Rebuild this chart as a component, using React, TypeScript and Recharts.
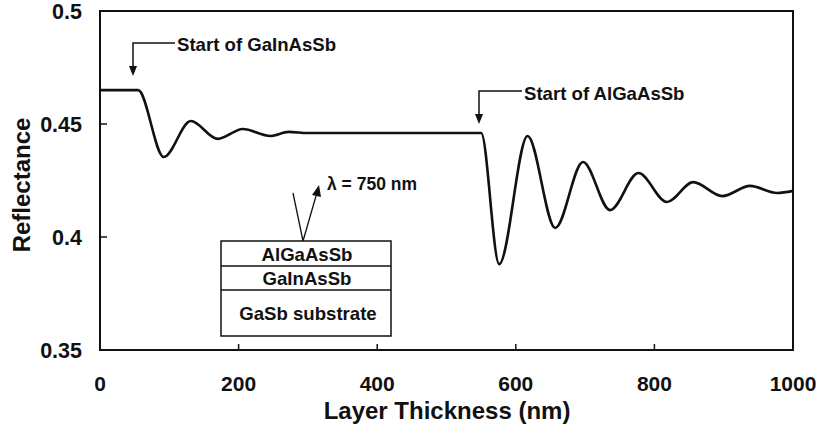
import { LineChart, Line, XAxis, YAxis, ReferenceArea } from "recharts";

// Reflectance trace at 750 nm vs. grown layer thickness
const thickness = [0, 55, 92, 131, 170, 206, 246, 272, 300, 550, 576, 617, 657, 697, 736, 777, 818, 856, 898, 938, 977, 1000];
const reflectance = [
  0.465, 0.465, 0.4354, 0.4513, 0.4434, 0.4478, 0.4447, 0.4465, 0.446, 0.446, 0.388, 0.4447, 0.404, 0.4332,
  0.4119, 0.4283, 0.4155, 0.4243, 0.4181, 0.4226, 0.4195, 0.4204
];
const xTicks = [0, 200, 400, 600, 800, 1000];
const yTicks = [0.35, 0.4, 0.45, 0.5];

const rows = thickness.map((t, i) => ({ t, r: reflectance[i] }));

const FONT = "'Liberation Sans', Arial, Helvetica, sans-serif";
const INK = "#111";
const X_MARGIN = 26;
const Y_MARGIN = 18;

function XTick(props: any) {
  const { x, y, payload } = props;
  const axisY = y - X_MARGIN;
  const edge = payload.value === 0 || payload.value === 1000;
  return (
    <g>
      {!edge && <line x1={x} x2={x} y1={axisY} y2={axisY - 6} stroke={INK} strokeWidth={1.5} />}
      <text x={x} y={y} dy="0.71em" textAnchor="middle" fontFamily={FONT} fontWeight="bold" fontSize={21} fill={INK}>
        {payload.value}
      </text>
    </g>
  );
}

function YTick(props: any) {
  const { x, y, payload } = props;
  const axisX = x + Y_MARGIN;
  const edge = payload.value === 0.35 || payload.value === 0.5;
  return (
    <g>
      {!edge && <line x1={axisX} x2={axisX + 7} y1={y} y2={y} stroke={INK} strokeWidth={1.5} />}
      <text x={x} y={y} dy="0.355em" textAnchor="end" fontFamily={FONT} fontWeight="bold" fontSize={21.5} fill={INK}>
        {payload.value}
      </text>
    </g>
  );
}

function Overlay() {
  const label = { fontFamily: FONT, fontWeight: "bold" as const, fill: INK };
  return (
    <svg width={820} height={438} style={{ position: "absolute", left: 0, top: 0, pointerEvents: "none" }}>
      {/* axis titles */}
      <text x={21} y={185} transform="rotate(-90 21 185)" textAnchor="middle" dominantBaseline="central" fontSize={24} {...label}>
        Reflectance
      </text>
      <text x={447} y={410} textAnchor="middle" dominantBaseline="central" fontSize={24} {...label}>
        Layer Thickness (nm)
      </text>

      {/* layer start markers */}
      <polyline points="175,43 133,43 133,67" fill="none" stroke={INK} strokeWidth={1.5} />
      <polygon points="129,66 137,66 133,76" fill={INK} />
      <text x={177} y={44} dominantBaseline="central" fontSize={18.6} {...label}>
        Start of GaInAsSb
      </text>
      <polyline points="522,91 479,91 479,115" fill="none" stroke={INK} strokeWidth={1.5} />
      <polygon points="475,114 483,114 479,124" fill={INK} />
      <text x={524} y={93} dominantBaseline="central" fontSize={18.6} {...label}>
        Start of AlGaAsSb
      </text>

      {/* layer stack sketch */}
      <line x1={293} y1={193} x2={303} y2={241} stroke={INK} strokeWidth={1.3} />
      <line x1={303} y1={241} x2={316} y2={196} stroke={INK} strokeWidth={1.3} />
      <polygon points="312,195 321,197 319,185" fill={INK} />
      <text x={327} y={184} dominantBaseline="central" fontSize={17.5} {...label}>
        λ = 750 nm
      </text>
      <rect x={221} y={241} width={170} height={95} fill="#fff" stroke={INK} strokeWidth={1.5} />
      <line x1={221} y1={266} x2={391} y2={266} stroke={INK} strokeWidth={1.5} />
      <line x1={221} y1={290} x2={391} y2={290} stroke={INK} strokeWidth={1.5} />
      <text x={307} y={254} textAnchor="middle" dominantBaseline="central" fontSize={18.6} {...label}>
        AlGaAsSb
      </text>
      <text x={307} y={278} textAnchor="middle" dominantBaseline="central" fontSize={18.6} {...label}>
        GaInAsSb
      </text>
      <text x={308} y={313} textAnchor="middle" dominantBaseline="central" fontSize={18.6} {...label}>
        GaSb substrate
      </text>
    </svg>
  );
}

export default function App() {
  return (
    <div style={{ position: "absolute", left: 0, top: 0, width: 820, height: 438, background: "#fff" }}>
      <LineChart width={820} height={438} data={rows} margin={{ top: 11, right: 27, bottom: 0, left: 0 }}>
        <XAxis
          dataKey="t"
          type="number"
          domain={[0, 1000]}
          ticks={xTicks}
          interval={0}
          height={88}
          tickSize={0}
          tickMargin={X_MARGIN}
          tick={<XTick />}
          axisLine={{ stroke: INK, strokeWidth: 2 }}
        />
        <YAxis
          type="number"
          domain={[0.35, 0.5]}
          ticks={yTicks}
          interval={0}
          width={100}
          tickSize={0}
          tickMargin={Y_MARGIN}
          tick={<YTick />}
          axisLine={{ stroke: INK, strokeWidth: 2 }}
        />
        <ReferenceArea x1={0} x2={1000} y1={0.35} y2={0.5} fill="none" stroke={INK} strokeWidth={2} ifOverflow="visible" />
        <Line
          type="monotone"
          dataKey="r"
          stroke={INK}
          strokeWidth={2.6}
          dot={false}
          isAnimationActive={false}
        />
      </LineChart>
      <Overlay />
    </div>
  );
}
